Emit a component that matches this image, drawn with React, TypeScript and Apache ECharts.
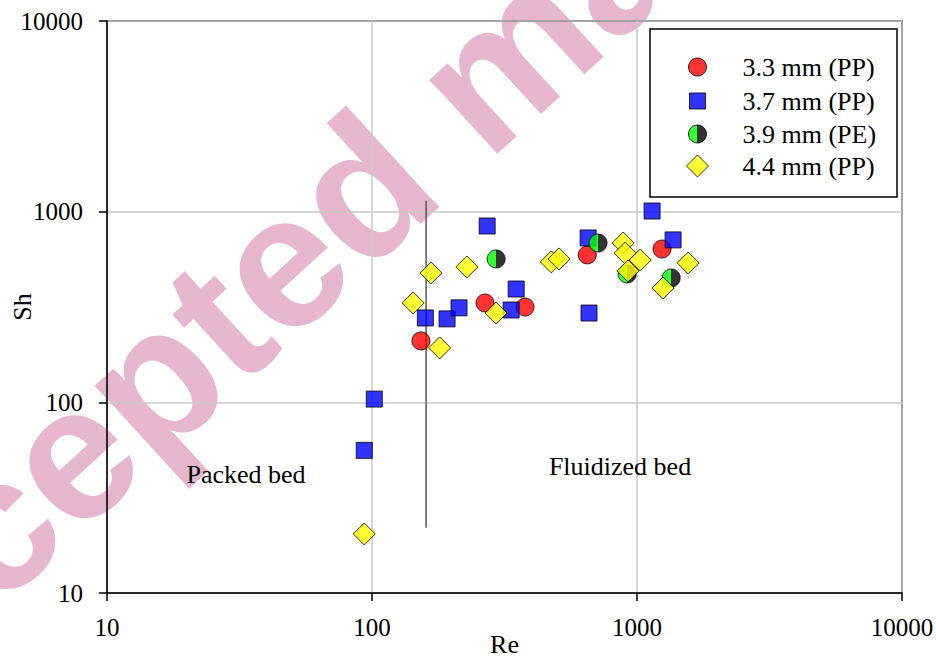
import React, { useEffect, useRef } from "react";
import * as echarts from "echarts";

const SERIES_NAMES = ["3.3 mm (PP)", "3.7 mm (PP)", "3.9 mm (PE)", "4.4 mm (PP)"];

const red33: [number, number][] = [
  [153, 210], [267, 332], [378, 316], [649, 593], [1243, 637],
];
const blue37: [number, number][] = [
  [93.5, 56], [102, 104], [159, 277], [192, 274], [213, 313], [272, 841],
  [335, 305], [350, 393], [654, 728], [659, 294], [1140, 1008], [1368, 711],
];
const green39: [number, number][] = [
  [294, 565], [713, 685], [918, 471], [1346, 449],
];
const yellow44: [number, number][] = [
  [93.5, 20.4], [143, 332], [167, 477], [180, 193], [228, 513], [294, 294],
  [475, 545], [508, 565], [887, 685], [902, 606], [1028, 558], [925, 489],
  [1254, 398], [1560, 538],
];
const boundaryLine: [number, number][] = [[160, 1140], [160, 22]];

const X_MIN = 10, X_MAX = 10000, Y_MIN = 10, Y_MAX = 10000;
const FONT = "Liberation Serif";

export default function App() {
  const ref = useRef<HTMLDivElement>(null);
  useEffect(() => {
    if (!ref.current) return;
    const chart = echarts.init(ref.current, undefined, { renderer: "svg" });
    const halfGreen = new echarts.graphic.LinearGradient(0, 0, 1, 0, [
      { offset: 0, color: "#00ff00" },
      { offset: 0.5, color: "#00ff00" },
      { offset: 0.5, color: "#000000" },
      { offset: 1, color: "#000000" },
    ]);
    const border = { borderColor: "#000", borderWidth: 1 };
    const rows = [
      { name: SERIES_NAMES[0], y: 63, h: 18 },
      { name: SERIES_NAMES[1], y: 96, h: 16 },
      { name: SERIES_NAMES[2], y: 130, h: 18 },
      { name: SERIES_NAMES[3], y: 164, h: 22 },
    ];
    const iconCx = 697, textX = 742;
    const axisCommon = {
      type: "log" as const,
      logBase: 10,
      axisLine: { show: true, lineStyle: { color: "#000", width: 1.5 } },
      axisTick: { show: true, length: 8, lineStyle: { color: "#000", width: 1.5 } },
      splitLine: { show: true, lineStyle: { color: "#c8c8c8", width: 1.5 } },
      minorTick: { show: false },
      minorSplitLine: { show: false },
      nameMoveOverlap: false,
      nameTextStyle: { fontSize: 26, fontFamily: FONT, color: "#000" },
    };
    const fmt = (v: number) => String(Math.round(v));
    chart.setOption({
      animation: false,
      backgroundColor: "#fff",
      textStyle: { fontFamily: FONT },
      grid: {
        left: 107, top: 21, width: 795, height: 572,
        containLabel: false, outerBoundsMode: "none",
        show: true, borderColor: "#000", borderWidth: 1.5,
      },
      xAxis: {
        ...axisCommon,
        min: X_MIN, max: X_MAX,
        name: "Re", nameLocation: "middle", nameGap: 38,
        axisLabel: { fontSize: 25, fontFamily: FONT, color: "#000", margin: 22, formatter: fmt },
      },
      yAxis: {
        ...axisCommon,
        min: Y_MIN, max: Y_MAX,
        name: "Sh", nameLocation: "middle", nameGap: 72,
        axisLabel: { fontSize: 25, fontFamily: FONT, color: "#000", margin: 24, formatter: fmt },
      },
      legend: rows.map((r) => ({
        data: [r.name],
        left: iconCx - r.h / 2, top: r.y - r.h / 2,
        orient: "horizontal",
        padding: 0, itemGap: 0,
        itemWidth: r.h, itemHeight: r.h,
        symbolKeepAspect: true,
        selectedMode: false,
        itemStyle: { borderColor: "#000", borderWidth: 1 },
        textStyle: {
          fontSize: 26, fontFamily: FONT, color: "#000",
          padding: [0, 0, 0, textX - (iconCx + r.h / 2 + 5)],
        },
        z: 6,
      })),
      graphic: [
        {
          type: "text", x: -163, y: 796, rotation: 0.74, z: -10, silent: true,
          style: {
            text: "Accepted manuscript",
            font: "bold 190px 'Liberation Sans', Arial, sans-serif",
            fill: "rgba(205,110,160,0.5)",
            textAlign: "left", textVerticalAlign: "bottom",
          },
        },
        {
          type: "rect", z: 5, silent: true,
          shape: { x: 650, y: 29, width: 247, height: 168 },
          style: { fill: "#fff", stroke: "#000", lineWidth: 1.5 },
        },
        {
          type: "text", x: 246, y: 474, z: 5, silent: true,
          style: { text: "Packed bed", fontSize: 26, fontFamily: FONT, fill: "#000", textAlign: "center", textVerticalAlign: "middle" },
        },
        {
          type: "text", x: 620, y: 466, z: 5, silent: true,
          style: { text: "Fluidized bed", fontSize: 26, fontFamily: FONT, fill: "#000", textAlign: "center", textVerticalAlign: "middle" },
        },
      ],
      series: [
        {
          type: "line", data: boundaryLine, symbol: "none", silent: true, z: 1,
          lineStyle: { color: "#555", width: 1.5 },
        },
        {
          name: SERIES_NAMES[0], type: "scatter", data: red33, symbol: "circle", symbolSize: 18,
          itemStyle: { color: "#ff0000", ...border },
        },
        {
          name: SERIES_NAMES[1], type: "scatter", data: blue37, symbol: "rect", symbolSize: 16,
          itemStyle: { color: "#0000ff", ...border },
        },
        {
          name: SERIES_NAMES[2], type: "scatter", data: green39, symbol: "circle", symbolSize: 18,
          itemStyle: { color: halfGreen, ...border },
        },
        {
          name: SERIES_NAMES[3], type: "scatter", data: yellow44, symbol: "diamond", symbolSize: 22,
          itemStyle: { color: "#ffff00", ...border },
        },
      ],
    });
    return () => chart.dispose();
  }, []);
  return (
    <div
      ref={ref}
      style={{ position: "fixed", left: 0, top: 0, width: 936, height: 659 }}
    />
  );
}
